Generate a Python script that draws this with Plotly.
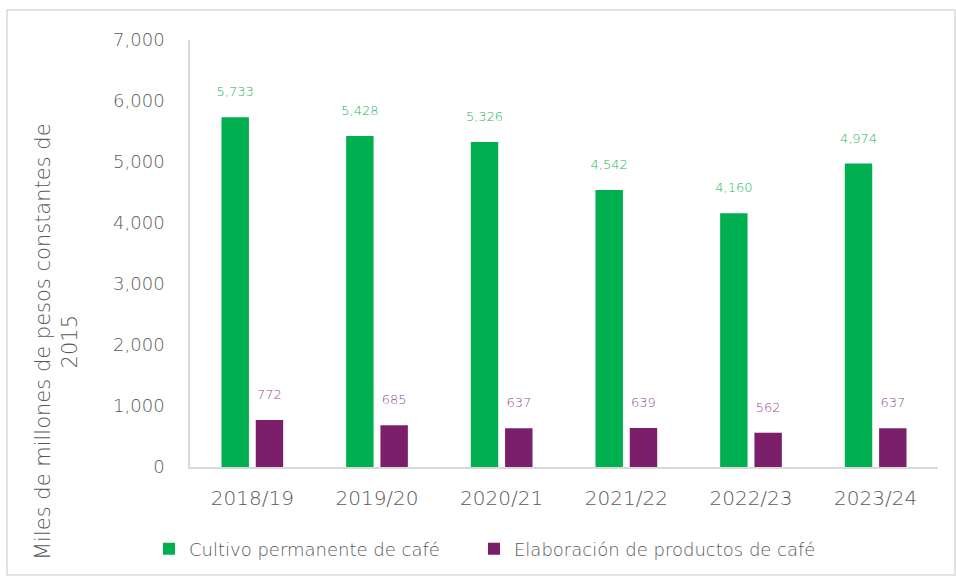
import plotly.graph_objects as go

categories = ["2018/19", "2019/20", "2020/21", "2021/22", "2022/23", "2023/24"]
cultivo = [5733, 5428, 5326, 4542, 4160, 4974]
elaboracion = [772, 685, 637, 639, 562, 637]
series_names = ["Cultivo permanente de café", "Elaboración de productos de café"]
y_ticks = [0, 1000, 2000, 3000, 4000, 5000, 6000, 7000]
y_title = "Miles de millones de pesos constantes de<br>2015"

W, H = 956, 580
ml, mr, mt, mb = 190, 18, 40, 113
pw, ph = W - ml - mr, H - mt - mb

def px_x(p):
    return (p - ml) / pw

def px_y(p):
    return (H - mb - p) / ph

FONT = "DejaVu Sans"
GRAY = "#595959"
WT = 300
LABEL_TPL = "%{y:,}<br><span style='font-size:4px'>\u00a0</span>"

fig = go.Figure()
fig.add_trace(go.Bar(
    x=categories, y=cultivo, name=series_names[0], legend="legend",
    marker=dict(color="#00AF50", line=dict(width=0)),
    texttemplate=LABEL_TPL, textposition="outside", constraintext="none",
    textfont=dict(family=FONT, size=13, color="#27B55C", weight=WT),
    cliponaxis=False,
))
fig.add_trace(go.Bar(
    x=categories, y=elaboracion, name=series_names[1], legend="legend2",
    marker=dict(color="#7B1F6A", line=dict(width=0)),
    texttemplate=LABEL_TPL, textposition="outside", constraintext="none",
    textfont=dict(family=FONT, size=13, color="#984A98", weight=WT),
    cliponaxis=False,
))

legend_common = dict(orientation="h", xanchor="left", y=px_y(549), yanchor="middle",
                     font=dict(family=FONT, size=18, color=GRAY, weight=WT), itemwidth=30,
                     bgcolor="rgba(0,0,0,0)")

fig.update_layout(
    width=W, height=H,
    margin=dict(l=ml, r=mr, t=mt, b=mb),
    paper_bgcolor="white", plot_bgcolor="white",
    barmode="group", bargap=0.45, bargroupgap=0.2,
    font=dict(family=FONT, color=GRAY, weight=WT),
    showlegend=True,
    legend=dict(x=px_x(149), **legend_common),
    legend2=dict(x=px_x(474), **legend_common),
    xaxis=dict(showline=True, linecolor="#D9D9D9", linewidth=1.5, showgrid=False,
               ticks="outside", ticklen=12, tickcolor="rgba(0,0,0,0)",
               tickfont=dict(family=FONT, size=20, color=GRAY, weight=WT)),
    yaxis=dict(range=[0, 7000], tickvals=y_ticks, tickformat=",", showline=True,
               linecolor="#D9D9D9", linewidth=1.5, showgrid=False, zeroline=False,
               ticks="outside", ticklen=20, tickcolor="rgba(0,0,0,0)",
               tickfont=dict(family=FONT, size=18, color=GRAY, weight=WT)),
    shapes=[dict(type="rect", xref="paper", yref="paper",
                 x0=px_x(7), x1=px_x(955), y0=px_y(575), y1=px_y(10),
                 line=dict(color="#D9D9D9", width=1.5), fillcolor="rgba(0,0,0,0)", layer="below")],
    annotations=[dict(text=y_title, xref="paper", yref="paper", x=px_x(56), y=px_y(342),
                      xanchor="center", yanchor="middle", textangle=-90, showarrow=False,
                      font=dict(family=FONT, size=21, color=GRAY, weight=WT))],
)

fig.write_html("out.html", config={"displayModeBar": False},
               post_script="document.body.style.margin='0';")
